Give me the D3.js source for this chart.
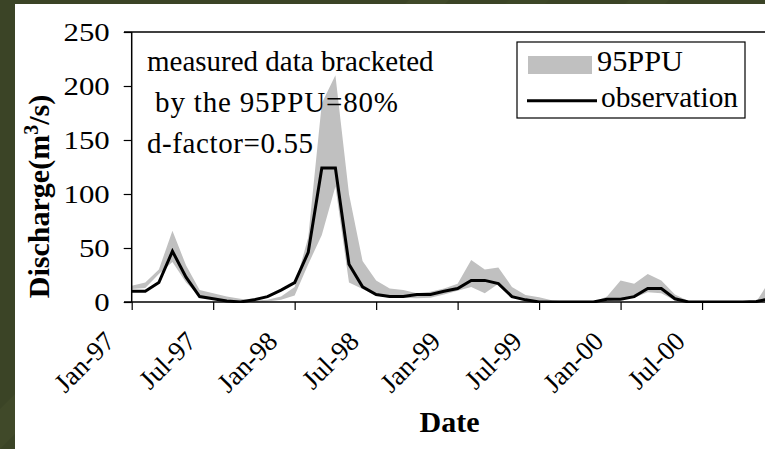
<!DOCTYPE html>
<html>
<head>
<meta charset="utf-8">
<script src="https://cdn.jsdelivr.net/npm/d3@7"></script>
<style>
  html, body { margin: 0; padding: 0; background: #3c4527; }
  svg { display: block; }
  svg text { font-family: "Liberation Serif", "DejaVu Serif", serif !important; fill: #000; }
</style>
</head>
<body>
<svg id="chart" width="765" height="449"></svg>
<script>
// ---- data (monthly, Jan-97 .. Dec-00) ----
const months = d3.timeMonth.range(new Date(1997, 0, 1), new Date(2001, 0, 1));
const observation = [10, 10, 18, 47, 23, 5, 3, 1, 0, 2, 5, 11,
                     18, 46, 124, 124, 35, 14, 7, 5, 5, 7, 7, 10,
                     12.5, 20, 20, 17, 5, 2, 0, 0, 0, 0, 0, 2.5,
                     2.5, 5, 12.5, 12.5, 3, 0, 0, 0, 0, 0, 0.5, 3];
const ppuLower = [12, 13, 26, 37, 18, 5, 2, 0.5, 0, 0, 0.5, 2,
                  6, 35, 62, 107, 18, 12, 6, 4, 4, 3.5, 4, 7,
                  10.5, 14, 8, 17, 4, 1, 0, 0, 0, 0, 0, 0.5,
                  3, 4, 9, 8, 1.5, 0, 0, 0, 0, 0, 0, 3];
const ppuUpper = [15, 18, 30, 66, 34, 11, 8, 5, 3, 1.5, 2, 5,
                  14, 60, 184, 210, 100, 38, 20, 12.5, 11, 8, 9.5, 12.5,
                  17, 39, 30, 32, 14, 6.5, 4.3, 1.5, 0.5, 0, 0, 5,
                  20, 17, 26, 20, 7, 1, 0, 0, 0, 0, 0.5, 20];
const xTickLabels = ["Jan-97", "Jul-97", "Jan-98", "Jul-98", "Jan-99", "Jul-99", "Jan-00", "Jul-00"];
const yTicks = [0, 50, 100, 150, 200, 250];
const annotation = ["measured data bracketed", " by the 95PPU=80%", "d-factor=0.55"];
const legendItems = ["95PPU", "observation"];

// ---- layout ----
const W = 765, H = 449;
const x0 = 131.7, step = 13.58;
const FONT = '"Liberation Serif", "DejaVu Serif", serif';
const svg = d3.select("#chart");

// textured dark-green background
const bg = svg.append("g");
bg.append("rect").attr("width", W).attr("height", H).attr("fill", "#3b4426");
const streaks = [[-40, 0.10], [60, 0.06], [180, 0.08], [330, 0.05], [470, 0.07], [620, 0.06]];
streaks.forEach(([s, o]) => {
  bg.append("path")
    .attr("d", `M${s},${H} L${s + 40},${H} L${s + 40 + H},0 L${s + H},0 Z`)
    .attr("fill", "#6a7a40").attr("opacity", o);
});
svg.append("rect").attr("x", 15).attr("y", 4).attr("width", W - 15).attr("height", H - 4).attr("fill", "#fff");

// scales
const idx = d3.range(months.length);
const x = d3.scaleLinear().domain([0, months.length - 1]).range([x0, x0 + step * (months.length - 1)]);
const y = d3.scaleLinear().domain([0, 250]).range([302, 32]);

svg.append("defs").append("clipPath").attr("id", "plotclip")
  .append("rect").attr("x", x0).attr("y", 0).attr("width", W - x0).attr("height", 303);

// band
const area = d3.area().x((d, i) => x(i)).y0((d, i) => y(ppuLower[i])).y1((d, i) => y(ppuUpper[i]));
svg.append("path").datum(idx).attr("clip-path", "url(#plotclip)")
  .attr("d", area).attr("fill", "#c0c0c0");

// observation line
const line = d3.line().x((d, i) => x(i)).y(d => y(d));
svg.append("path").datum(observation).attr("clip-path", "url(#plotclip)")
  .attr("d", line).attr("fill", "none").attr("stroke", "#000")
  .attr("stroke-width", 3).attr("stroke-linejoin", "miter");

// axes lines
svg.append("line").attr("x1", 124).attr("x2", W).attr("y1", y(250)).attr("y2", y(250)).attr("stroke", "#000").attr("stroke-width", 1.5);
svg.append("line").attr("x1", 124).attr("x2", W).attr("y1", y(0)).attr("y2", y(0)).attr("stroke", "#000").attr("stroke-width", 1.5);
svg.append("line").attr("x1", x0).attr("x2", x0).attr("y1", y(250)).attr("y2", y(0)).attr("stroke", "#000").attr("stroke-width", 1.5);

// y axis
const yAxis = svg.append("g").attr("transform", `translate(${x0},0)`)
  .call(d3.axisLeft(y).tickValues(yTicks).tickSize(8).tickPadding(14));
yAxis.attr("font-family", FONT);
yAxis.select(".domain").remove();
yAxis.selectAll(".tick line").attr("stroke", "#000").attr("stroke-width", 1.2);
yAxis.selectAll(".tick text")
  .style("font-family", FONT).attr("font-size", 26)
  .attr("dy", "0.33em")
  .attr("textLength", d => String(d).length * 15.4)
  .attr("lengthAdjust", "spacingAndGlyphs");

// x axis
const xTickIdx = xTickLabels.map((d, i) => i * 6);
const xAxis = svg.append("g").attr("transform", `translate(0,${y(0)})`)
  .call(d3.axisBottom(x).tickValues(xTickIdx).tickSize(8).tickFormat((d, i) => xTickLabels[i]));
xAxis.attr("font-family", FONT);
xAxis.select(".domain").remove();
xAxis.selectAll(".tick line").attr("stroke", "#000").attr("stroke-width", 1.2);
xAxis.selectAll(".tick text")
  .style("font-family", FONT).attr("font-size", 27)
  .attr("x", 0).attr("y", 0).attr("dy", 0)
  .attr("text-anchor", "end")
  .attr("transform", "translate(-16,41) rotate(-45)");

// axis titles
svg.append("text").attr("x", 449.5).attr("y", 431.5).attr("text-anchor", "middle")
  .style("font-family", FONT).attr("font-size", 30).attr("font-weight", "bold").text("Date");
const yt = svg.append("text").attr("transform", "translate(48.5,196.5) rotate(-90)")
  .style("font-family", FONT).attr("text-anchor", "middle").attr("font-size", 30).attr("font-weight", "bold");
yt.append("tspan").text("Discharge(m");
yt.append("tspan").attr("font-size", 20).attr("dy", -11).text("3");
yt.append("tspan").attr("dy", 11).text("/s)");

// annotation
const annY = [70.7, 111.7, 153.3];
const annLen = [null, 251, 166];
svg.append("g").selectAll("text").data(annotation).join("text")
  .attr("x", 147).attr("y", (d, i) => annY[i])
  .style("font-family", FONT).attr("font-size", 29)
  .style("white-space", "pre").attr("xml:space", "preserve")
  .each(function (d, i) {
    if (annLen[i]) d3.select(this).attr("textLength", annLen[i]).attr("lengthAdjust", "spacing");
  })
  .text(d => d);

// legend
const lg = svg.append("g");
lg.append("rect").attr("x", 517).attr("y", 42).attr("width", 228).attr("height", 76)
  .attr("fill", "#fff").attr("stroke", "#000").attr("stroke-width", 1.2);
lg.append("rect").attr("x", 528).attr("y", 56).attr("width", 64).attr("height", 18).attr("fill", "#c0c0c0");
lg.append("line").attr("x1", 527).attr("x2", 597).attr("y1", 100.7).attr("y2", 100.7)
  .attr("stroke", "#000").attr("stroke-width", 3);
const legX = [597, 601];
const legY = [71, 107];
const legLen = [86, 137];
lg.selectAll("text.leg").data(legendItems).join("text").attr("class", "leg")
  .attr("x", (d, i) => legX[i]).attr("y", (d, i) => legY[i])
  .style("font-family", FONT).attr("font-size", 29)
  .attr("textLength", (d, i) => legLen[i]).attr("lengthAdjust", "spacingAndGlyphs")
  .text(d => d);
</script>
</body>
</html>
